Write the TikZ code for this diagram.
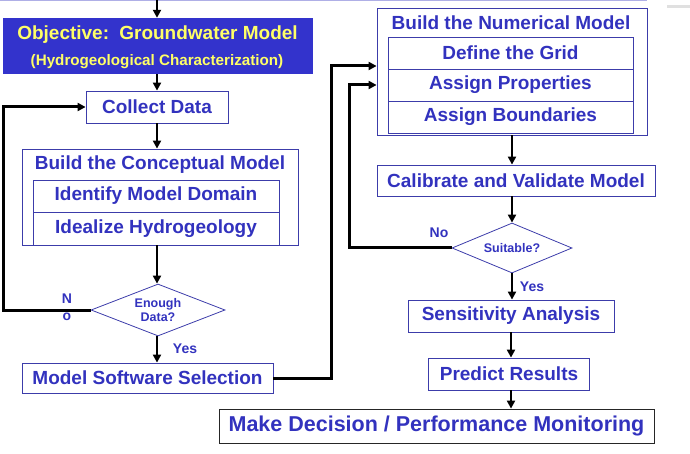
\documentclass[tikz,border=0pt]{standalone}
\usepackage{fontspec}
\setmainfont{Liberation Sans}
\usetikzlibrary{shapes.geometric,arrows.meta}
\definecolor{textblue}{RGB}{50,50,190}
\definecolor{boxblue}{RGB}{60,60,170}
\definecolor{objfill}{RGB}{51,51,204}
\definecolor{objtext}{RGB}{255,255,102}
\definecolor{topline}{RGB}{175,175,230}

\begin{document}
\begin{tikzpicture}[x=1pt, y=-1pt,
        stepbox/.style={rectangle, draw=boxblue, line width=0.8pt, inner sep=0pt, text=textblue,
                        font=\bfseries\fontsize{19}{21}\selectfont},
        framebox/.style={rectangle, draw=boxblue, line width=0.8pt, inner sep=0pt},
        titletext/.style={text=textblue, inner sep=0pt, font=\bfseries\fontsize{19}{21}\selectfont},
        decision/.style={diamond, draw=boxblue, line width=0.8pt, inner sep=0pt, text=textblue,
                         align=center, font=\bfseries\fontsize{12.5}{14.5}\selectfont},
        answer/.style={text=textblue, inner sep=0pt, align=center, font=\bfseries\fontsize{14}{17}\selectfont},
        flow/.style={-{Triangle[length=8pt,width=8pt]}, line width=2.6pt, black},
        back/.style={-{Triangle[length=8pt,width=8pt]}, line width=3pt, black},
        ]
            \useasboundingbox (0,0) rectangle (690,454);
            \draw[topline, line width=1.2pt] (0,0.6) -- (647,0.6);
            \draw[black!12, line width=3pt] (667,6.5) -- (690,6.5);

            % left column
            \coordinate (start) at (157,0);
            \coordinate (colL) at (157,0);
            \node[rectangle, fill=objfill, minimum width=310pt, minimum height=56pt] at (158,46) (obj) {};
            \node[text=objtext, inner sep=0pt, font=\bfseries\fontsize{19}{21}\selectfont] at (157.5,35) (objtitle) {Objective:\, Groundwater Model};
            \node[text=objtext, inner sep=0pt, font=\bfseries\fontsize{15.2}{17}\selectfont] at (157,61.5) (objsub) {(Hydrogeological Characterization)};

            \node[stepbox, minimum width=142pt, minimum height=32pt] at (157,107) (collect) {Collect Data};

            \node[framebox, minimum width=276pt, minimum height=96pt] at (160,197) (concept) {};
            \node[titletext] at (160,165) (concepttitle) {Build the Conceptual Model};
            \node[stepbox, minimum width=246pt, minimum height=32pt] at (156,196) (domain) {Identify Model Domain};
            \node[stepbox, minimum width=246pt, minimum height=33pt] at (156,228.5) (idealize) {Idealize Hydrogeology};

            \node[decision, minimum width=134pt, minimum height=52pt, shape aspect=2.6] at (158,310) (enough) {Enough\\Data?};
            \node[answer] at (67,307) (enoughno) {N\\o};
            \node[answer] at (185,349) (enoughyes) {Yes};

            \node[stepbox, minimum width=251pt, minimum height=30pt] at (147.5,378) (software) {Model Software Selection};

            % right column
            \node[framebox, minimum width=270pt, minimum height=127pt] at (512,71.5) (numerical) {};
            \node[titletext] at (511,22.5) (numtitle) {Build the Numerical Model};
            \node[stepbox, minimum width=245pt, minimum height=32pt] at (510.5,53) (grid) {Define the Grid};
            \node[stepbox, minimum width=245pt, minimum height=32pt] at (510.5,85) (props) {Assign Properties};
            \node[stepbox, minimum width=245pt, minimum height=32pt] at (510.5,117) (bounds) {Assign Boundaries};

            \node[stepbox, minimum width=278pt, minimum height=31pt] at (516,180.5) (calib) {Calibrate and Validate Model};

            \node[decision, minimum width=120pt, minimum height=50pt, shape aspect=2.4] at (512,248) (suitable) {Suitable?};
            \node[answer] at (439,233) (suitno) {No};
            \node[answer] at (532,287) (suityes) {Yes};

            \node[stepbox, minimum width=206pt, minimum height=32pt] at (511,316) (sens) {Sensitivity Analysis};
            \node[stepbox, minimum width=161pt, minimum height=32pt] at (509,374) (predict) {Predict Results};
            \node[stepbox, draw=black!85, minimum width=435pt, minimum height=34pt,
                  font=\bfseries\fontsize{21.5}{24}\selectfont] at (436.5,426) (decide) {Make Decision / Performance Monitoring};

            \coordinate (leftrail) at (3,0);
            \coordinate (midrail) at (331,0);
            \coordinate (rightrail) at (349,0);
            \coordinate (numin) at ([yshift=5.5pt]numerical.west);
            \coordinate (numback) at ([yshift=-13.5pt]numerical.west);

            % connectors
            \draw[flow] (start) -- (start |- obj.north);
            \draw[flow] (obj.south -| colL) -- (collect.north -| colL);
            \draw[flow] (collect.south -| colL) -- (concept.north -| colL);
            \draw[flow] (concept.south -| colL) -- (enough.north -| colL);
            \draw[flow] (enough.south -| colL) -- (software.north -| colL);
            \draw[back] (enough.west) -- (enough.west -| leftrail) |- (collect.west);
            \draw[back] (software.east) -- (software.east -| midrail) |- (numin);
            \draw[flow] (numerical.south) -- (numerical.south |- calib.north);
            \draw[flow] (numerical.south |- calib.south) -- (numerical.south |- suitable.north);
            \draw[back] (suitable.west) -- (suitable.west -| rightrail) |- (numback);
            \draw[flow] (suitable.south) -- (suitable.south |- sens.north);
            \draw[flow] (sens.south) -- (sens.south |- predict.north);
            \draw[flow] (sens.south |- predict.south) -- (sens.south |- decide.north);

            \end{tikzpicture}
\end{document}
